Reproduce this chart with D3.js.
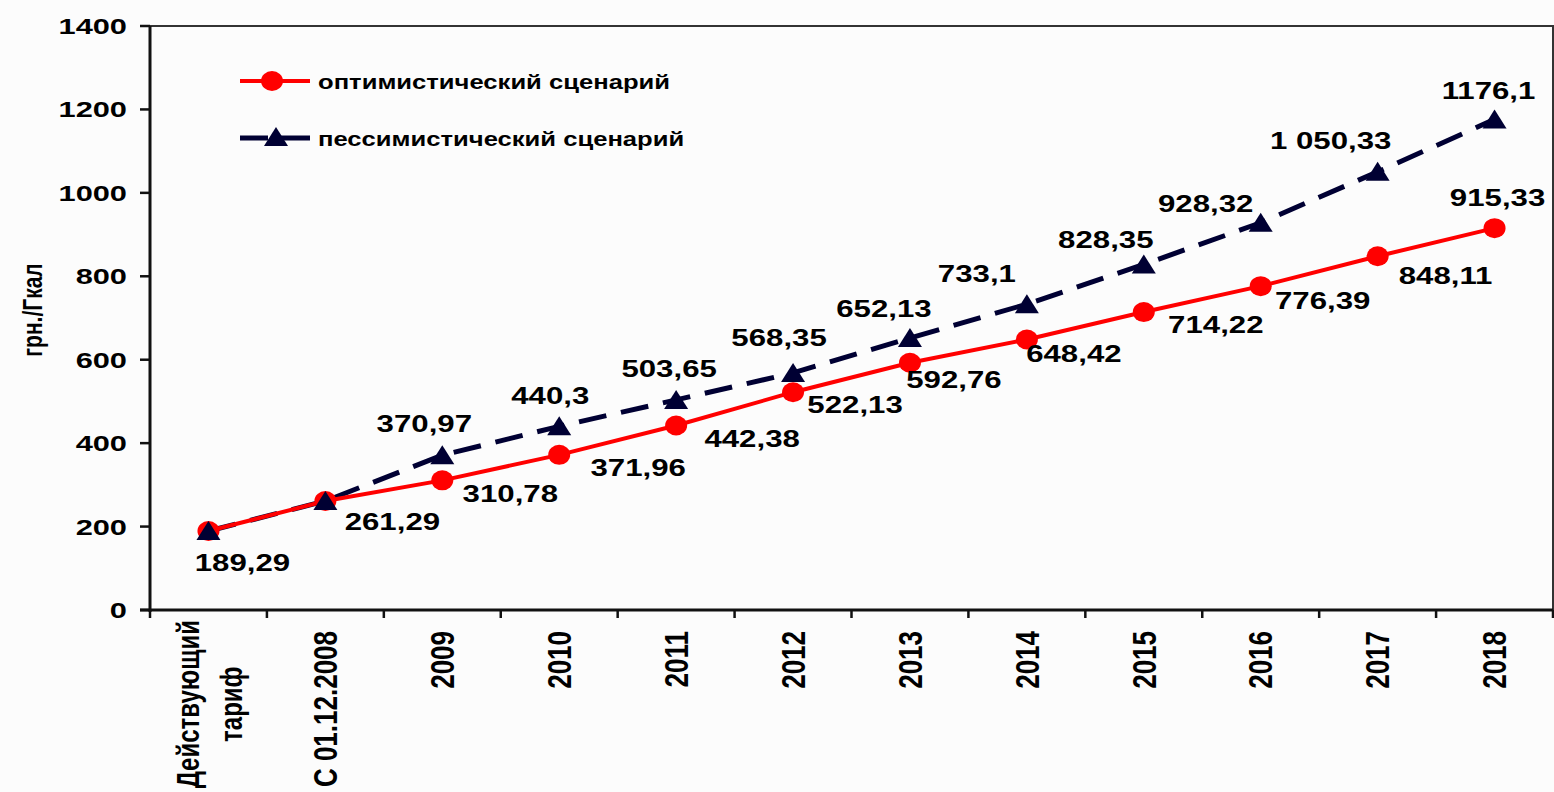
<!DOCTYPE html>
<html>
  <head>
    <meta charset="utf-8">
    <script src="https://cdnjs.cloudflare.com/ajax/libs/d3/7.8.5/d3.min.js"></script>
<style>
  body { margin: 0; background: #fcfcfc; }
  svg { display: block; font-family: Arial, "Liberation Sans", sans-serif; font-weight: bold; }
</style>
  </head>
  <body>
    <div id="vis"></div>
    <script type="text/javascript">

        const categories = ["Действующий\nтариф", "С 01.12.2008", "2009", "2010", "2011", "2012",
                            "2013", "2014", "2015", "2016", "2017", "2018"];
        const optimistic = [189.29, 261.29, 310.78, 371.96, 442.38, 522.13, 592.76, 648.42, 714.22, 776.39, 848.11, 915.33];
        const pessimistic = [189.29, 261.29, 370.97, 440.3, 503.65, 568.35, 652.13, 733.1, 828.35, 928.32, 1050.33, 1176.1];
        const optimisticLabels = ["189,29", "261,29", "310,78", "371,96", "442,38", "522,13",
                                  "592,76", "648,42", "714,22", "776,39", "848,11", "915,33"];
        const pessimisticLabels = [null, null, "370,97", "440,3", "503,65", "568,35",
                                   "652,13", "733,1", "828,35", "928,32", "1 050,33", "1176,1"];
        const yTicks = [0, 200, 400, 600, 800, 1000, 1200, 1400];
        const seriesNames = ["оптимистический сценарий", "пессимистический сценарий"];
        const yTitle = "грн./Гкал";

        const width = 1554;
        const height = 792;
        const sx = 1.3; // the picture is stretched sideways, text follows it

        const svg = d3.select("#vis").append("svg")
            .attr("width", width)
            .attr("height", height);

        var x = d3.scaleBand().domain(categories).range([150, 1553]);
        var y = d3.scaleLinear().domain([0, 1400]).range([610, 26]);
        const cx = (d, i) => x(categories[i]) + x.bandwidth() / 2;

        // frame: top and right
        svg.append("path")
            .attr("d", "M" + x.range()[0] + "," + y(1400) + "H" + x.range()[1] + "V" + y(0))
            .attr("fill", "none")
            .attr("stroke", "#333")
            .attr("stroke-width", 2);

        // y axis
        var yAxis = svg.append("g").attr("id", "yAxis");
        yAxis.append("line")
            .attr("x1", x.range()[0]).attr("x2", x.range()[0])
            .attr("y1", y(1400)).attr("y2", y(0) + 2)
            .attr("stroke", "#111").attr("stroke-width", 3);
        yAxis.selectAll("line.tick")
            .data(yTicks)
            .join("line")
            .attr("class", "tick")
            .attr("x1", x.range()[0] - 10).attr("x2", x.range()[0])
            .attr("y1", d => y(d)).attr("y2", d => y(d))
            .attr("stroke", "#111").attr("stroke-width", 2.5);
        yAxis.selectAll("text")
            .data(yTicks)
            .join("text")
            .attr("text-anchor", "end")
            .attr("font-size", 22)
            .attr("transform", d => "translate(127," + (y(d) + 8) + ") scale(1.4,1)")
            .text(d => d);

        svg.append("text")
            .attr("text-anchor", "middle")
            .attr("font-size", 21)
            .attr("transform", "translate(42,310) scale(" + sx + ",1) rotate(-90)")
            .text(yTitle);

        // x axis
        var xAxis = svg.append("g").attr("id", "xAxis");
        xAxis.append("line")
            .attr("x1", x.range()[0] - 10).attr("x2", x.range()[1])
            .attr("y1", y(0)).attr("y2", y(0))
            .attr("stroke", "#111").attr("stroke-width", 3);
        xAxis.selectAll("line.tick")
            .data(d3.range(categories.length + 1))
            .join("line")
            .attr("class", "tick")
            .attr("x1", i => x.range()[0] + i * x.step()).attr("x2", i => x.range()[0] + i * x.step())
            .attr("y1", y(0)).attr("y2", y(0) + 8)
            .attr("stroke", "#111").attr("stroke-width", 2.5);

        const labelTop = 631;
        const lineGap = 33;
        categories.forEach((c, i) => {
            const lines = c.split("\n");
            const t = xAxis.append("text")
                .attr("font-size", lines.length > 1 ? 24 : 26)
                .attr("text-anchor", lines.length > 1 ? "middle" : "end");
            lines.forEach((l, j) => {
                t.append("tspan")
                    .attr("x", 0)
                    .attr("dy", j === 0 ? (-(lines.length - 1) / 2 * lineGap + 9) : lineGap)
                    .text(l);
            });
            let ty = labelTop;
            if (lines.length > 1) {
                const len = d3.max(t.selectAll("tspan").nodes(), n => n.getComputedTextLength());
                ty = Math.min(labelTop - 11 + len / 2, height - 2 - len / 2);
            }
            t.attr("transform", "translate(" + cx(null, i) + "," + ty + ") scale(" + sx + ",1) rotate(-90)");
        });

        // lines
        var line = d3.line().x((d, i) => cx(d, i)).y(d => y(d));

        svg.append("path")
            .datum(pessimistic)
            .attr("fill", "none")
            .attr("stroke", "#000033")
            .attr("stroke-width", 5)
            .attr("stroke-dasharray", "28,15")
            .attr("d", line);

        svg.append("path")
            .datum(optimistic)
            .attr("fill", "none")
            .attr("stroke", "#ff0000")
            .attr("stroke-width", 4)
            .attr("d", line);

        svg.append("g")
            .selectAll("ellipse")
            .data(optimistic)
            .join("ellipse")
            .attr("cx", (d, i) => cx(d, i))
            .attr("cy", d => y(d))
            .attr("rx", 11).attr("ry", 10)
            .attr("fill", "#ff0000");

        const tri = "M0,-10L12,9L-12,9Z";
        svg.append("g")
            .selectAll("path")
            .data(pessimistic)
            .join("path")
            .attr("d", tri)
            .attr("transform", (d, i) => "translate(" + cx(d, i) + "," + y(d) + ")")
            .attr("fill", "#000033");

        // data labels; offsets follow the hand-placed labels of the picture
        const optOffsets = [[34, 40], [67, 29], [68, 22], [79, 21], [76, 22], [62, 21],
                            [44, 25], [47, 22], [72, 21], [62, 23], [68, 28], [3, -22]];
        const pesOffsets = [null, null, [-18, -23], [-9, -22], [-7, -23], [-14, -27],
                            [-26, -21], [-50, -22], [-38, -16], [-55, -11], [-47, -23], [-6, -20]];

        svg.append("g")
            .selectAll("text")
            .data(optimistic)
            .join("text")
            .attr("text-anchor", "middle")
            .attr("font-size", 24)
            .attr("transform", (d, i) => "translate(" + (cx(d, i) + optOffsets[i][0]) + "," + (y(d) + optOffsets[i][1]) + ") scale(" + sx + ",1)")
            .text((d, i) => optimisticLabels[i]);

        svg.append("g")
            .selectAll("text")
            .data(pessimistic.map((v, i) => ({v: v, i: i})).filter(d => pessimisticLabels[d.i]))
            .join("text")
            .attr("text-anchor", "middle")
            .attr("font-size", 24)
            .attr("transform", d => "translate(" + (cx(d.v, d.i) + pesOffsets[d.i][0]) + "," + (y(d.v) + pesOffsets[d.i][1]) + ") scale(" + sx + ",1)")
            .text(d => pessimisticLabels[d.i]);

        // legend
        var legend = svg.append("g").attr("id", "legend");
        legend.append("line")
            .attr("x1", 240).attr("x2", 310).attr("y1", 81).attr("y2", 81)
            .attr("stroke", "#ff0000").attr("stroke-width", 4);
        legend.append("ellipse")
            .attr("cx", 272).attr("cy", 81).attr("rx", 11).attr("ry", 10)
            .attr("fill", "#ff0000");
        legend.append("line")
            .attr("x1", 240).attr("x2", 310).attr("y1", 138).attr("y2", 138)
            .attr("stroke", "#000033").attr("stroke-width", 5)
            .attr("stroke-dasharray", "28,8,34");
        legend.append("path")
            .attr("d", tri)
            .attr("transform", "translate(276,137)")
            .attr("fill", "#000033");
        legend.selectAll("text")
            .data(seriesNames)
            .join("text")
            .attr("font-size", 21)
            .attr("transform", (d, i) => "translate(318," + (89 + i * 57) + ") scale(1.22,1)")
            .text(d => d);

    </script>
  </body>
</html>
